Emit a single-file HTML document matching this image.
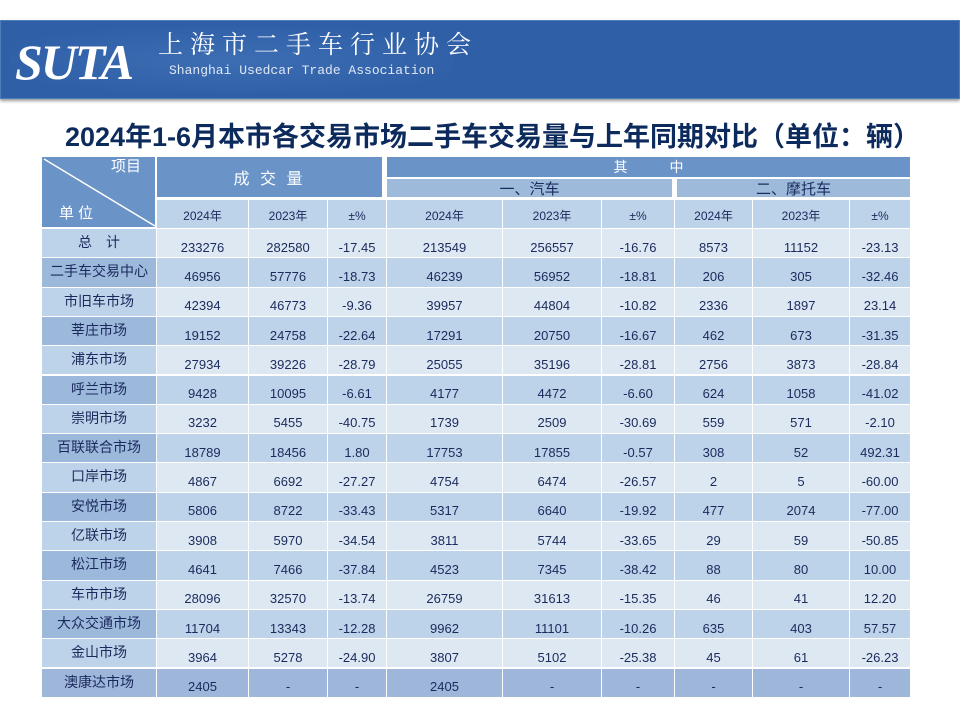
<!DOCTYPE html>
<html><head><meta charset="utf-8"><style>
body{margin:0;width:960px;height:720px;background:#fff;position:relative;overflow:hidden;font-family:"Liberation Sans","Noto Sans CJK SC",sans-serif;}
.c{position:absolute;box-sizing:border-box;display:flex;align-items:center;justify-content:center;color:#1b2a5c;font-size:13px;}
</style></head><body>
<div style="position:absolute;left:0;top:20px;width:960px;height:79px;background:#2f5fa6;border:1px solid #4a7fb8;box-sizing:border-box;box-shadow:0 2px 3px #999;">
 <div style="position:absolute;left:8px;top:6px;width:445px;height:66px;background:radial-gradient(ellipse at center,#3d6db3 0%,#2f5fa6 80%);"></div>
 <div style="position:absolute;left:14px;top:12px;font-family:'Liberation Serif',serif;font-style:italic;font-weight:bold;font-size:50px;color:#fff;letter-spacing:-2px;">SUTA</div>
 <div style="position:absolute;left:157px;top:10px;font-family:'Liberation Serif','Noto Serif CJK SC',serif;font-size:25px;line-height:30px;color:#fff;letter-spacing:7px;">上海市二手车行业协会</div>
 <div style="position:absolute;left:168px;top:42px;font-family:'Liberation Mono',monospace;font-size:13px;color:#dfe8f5;">Shanghai Usedcar Trade Association</div>
</div>
<div style="position:absolute;left:0;width:985px;top:115px;text-align:center;font-size:27px;font-weight:bold;color:#0d2a5c;white-space:nowrap;">2024年1-6月本市各交易市场二手车交易量与上年同期对比（单位：辆）</div>
<div id="t"></div>
<script>
const xs=[42,157,249,328,387,503,602,675,753,850,911];
const labels=["总　计","二手车交易中心","市旧车市场","莘庄市场","浦东市场","呼兰市场","崇明市场","百联联合市场","口岸市场","安悦市场","亿联市场","松江市场","车市市场","大众交通市场","金山市场","澳康达市场"];
const rows=[
["233276","282580","-17.45","213549","256557","-16.76","8573","11152","-23.13"],
["46956","57776","-18.73","46239","56952","-18.81","206","305","-32.46"],
["42394","46773","-9.36","39957","44804","-10.82","2336","1897","23.14"],
["19152","24758","-22.64","17291","20750","-16.67","462","673","-31.35"],
["27934","39226","-28.79","25055","35196","-28.81","2756","3873","-28.84"],
["9428","10095","-6.61","4177","4472","-6.60","624","1058","-41.02"],
["3232","5455","-40.75","1739","2509","-30.69","559","571","-2.10"],
["18789","18456","1.80","17753","17855","-0.57","308","52","492.31"],
["4867","6692","-27.27","4754","6474","-26.57","2","5","-60.00"],
["5806","8722","-33.43","5317","6640","-19.92","477","2074","-77.00"],
["3908","5970","-34.54","3811","5744","-33.65","29","59","-50.85"],
["4641","7466","-37.84","4523","7345","-38.42","88","80","10.00"],
["28096","32570","-13.74","26759","31613","-15.35","46","41","12.20"],
["11704","13343","-12.28","9962","11101","-10.26","635","403","57.57"],
["3964","5278","-24.90","3807","5102","-25.38","45","61","-26.23"],
["2405","-","-","2405","-","-","-","-","-"]];
const t=document.getElementById('t');
function cell(x,y,w,h,bg,txt,name,extra){
 const d=document.createElement('div');d.className='c';
 
 
 d.style.cssText=`left:${x}px;top:${y}px;width:${w}px;height:${h}px;background:${bg};border-right:1.5px solid #fff;border-bottom:1.5px solid #fff;`+(extra||'');
 d.textContent=txt;t.appendChild(d);return d;}
const dg=cell(42,157,115,71,'#6a93c7','','header-corner-cell','border-right:2px solid #fff;');
dg.innerHTML='<svg width="115" height="71" style="position:absolute;left:0;top:0"><line x1="2" y1="2" x2="113" y2="69" stroke="#fff" stroke-width="1.5"/></svg><span style="position:absolute;right:14px;top:-2px;color:#fff;font-size:15px">项目</span><span style="position:absolute;left:17px;bottom:4px;color:#fff;font-size:15px;letter-spacing:4px">单位</span>';
cell(157,157,228,41,'#6a93c7','成 交 量','volume-header','color:#fff;font-size:16px;letter-spacing:3px;border-right:3px solid #fff;');
cell(387,157,524,21,'#6a93c7','其　　　中','breakdown-header','color:#fff;font-size:14px;');
cell(387,179,288,19,'#9dbadb','一、汽车','car-header','font-size:15px;border-right:3px solid #fff;');
cell(677,179,234,19,'#9dbadb','二、摩托车','motorcycle-header','font-size:15px;');
const yh=["2024年","2023年","±%"];
for(let i=0;i<9;i++){cell(xs[i+1],200,xs[i+2]-xs[i+1],29,'#bcd3e9',yh[i%3],'year-header-'+i,'font-size:12px;padding-top:3px;');}
const rh=29.3,y0=229;
for(let r=0;r<rows.length;r++){
 const y=y0+r*rh;const last=r===rows.length-1;const odd=r%2===0;
 const lb=last?'#9db6da':(odd?'#bcd3e9':'#9cb9db');
 const vb=last?'#9db6da':(odd?'#dde8f3':'#bcd3e9');
 cell(42,y,115,rh,lb,labels[r],'row-label-'+r,'font-size:14px;align-items:flex-start;padding-top:3px;');
 for(let i=0;i<9;i++){cell(xs[i+1],y,xs[i+2]-xs[i+1],rh,vb,rows[r][i],'cell-'+r+'-'+i,'padding-top:8px;');}
}
</script>
</body></html>
